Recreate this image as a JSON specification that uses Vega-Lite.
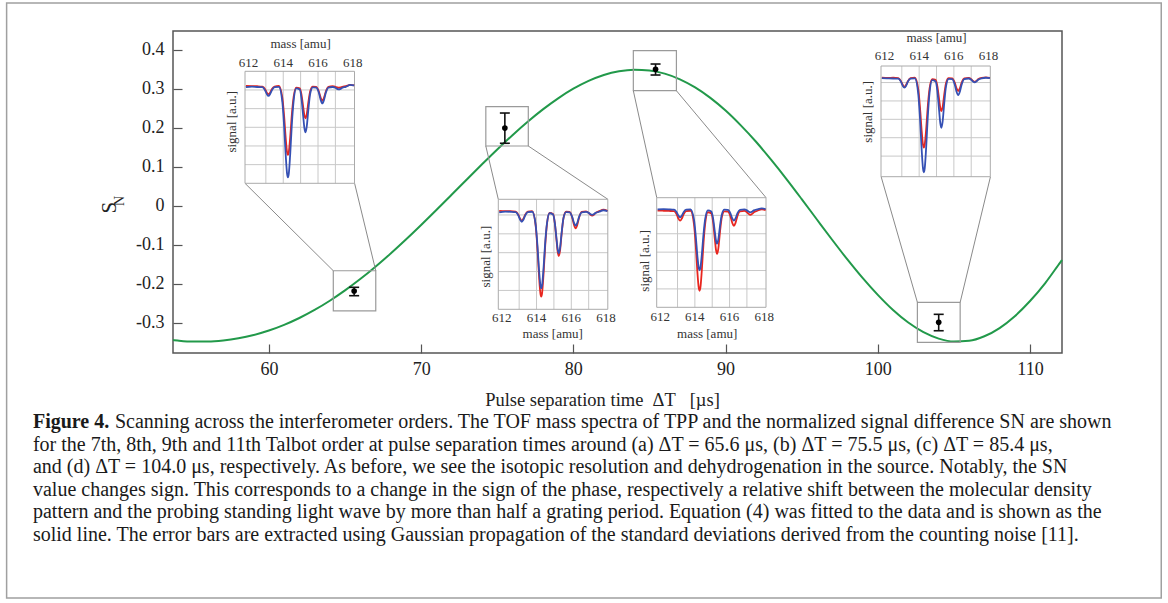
{
  "$schema": "https://vega.github.io/schema/vega-lite/v6.json",
  "width": 889,
  "height": 322,
  "autosize": {"type": "none"},
  "padding": {"left": 173, "top": 31, "right": 106, "bottom": 250},
  "background": "white",
  "config": {
    "font": "Liberation Serif",
    "view": {"stroke": "#555555", "strokeWidth": 1.5},
    "text": {"font": "Liberation Serif"}
  },
  "datasets": {
    "curve": [
      {"t":53.7,"s":-0.3449},{"t":54,"s":-0.3461},{"t":55,"s":-0.3487},{"t":56,"s":-0.3487},{"t":57,"s":-0.346},{"t":58,"s":-0.3404},{"t":59,"s":-0.3319},{"t":60,"s":-0.3204},{"t":61,"s":-0.3058},{"t":62,"s":-0.2882},{"t":63,"s":-0.2675},{"t":64,"s":-0.2439},{"t":65,"s":-0.2174},{"t":66,"s":-0.1883},{"t":67,"s":-0.1566},{"t":68,"s":-0.1228},{"t":69,"s":-0.087},{"t":70,"s":-0.0497},{"t":71,"s":-0.0113},{"t":72,"s":0.0278},{"t":73,"s":0.0672},{"t":74,"s":0.1061},{"t":75,"s":0.1442},{"t":76,"s":0.1808},{"t":77,"s":0.2152},{"t":78,"s":0.2469},{"t":79,"s":0.2753},{"t":80,"s":0.2999},{"t":81,"s":0.32},{"t":82,"s":0.3352},{"t":83,"s":0.3449},{"t":84,"s":0.3489},{"t":85,"s":0.3469},{"t":86,"s":0.3386},{"t":87,"s":0.3241},{"t":88,"s":0.3033},{"t":89,"s":0.2764},{"t":90,"s":0.2439},{"t":91,"s":0.2059},{"t":92,"s":0.1639},{"t":93,"s":0.1173},{"t":94,"s":0.0682},{"t":95,"s":0.0168},{"t":96,"s":-0.0355},{"t":97,"s":-0.0875},{"t":98,"s":-0.138},{"t":99,"s":-0.1855},{"t":100,"s":-0.229},{"t":101,"s":-0.2678},{"t":102,"s":-0.2999},{"t":103,"s":-0.3246},{"t":104,"s":-0.3411},{"t":105,"s":-0.3486},{"t":106,"s":-0.3467},{"t":107,"s":-0.3351},{"t":108,"s":-0.314},{"t":109,"s":-0.2836},{"t":110,"s":-0.2447},{"t":111,"s":-0.1986},{"t":112,"s":-0.1448},{"t":112.1,"s":-0.1395}
    ],
    "points": [
      {"t":65.6,"v":-0.219,"lo":-0.231,"hi":-0.2095},
      {"t":75.5,"v":0.199,"lo":0.16,"hi":0.2376},
      {"t":85.4,"v":0.3497,"lo":0.3351,"hi":0.3633},
      {"t":104.0,"v":-0.2993,"lo":-0.3209,"hi":-0.2788}
    ],
    "boxes": [
      {"x1":64.23,"x2":67.02,"y1":-0.167,"y2":-0.27},
      {"x1":74.25,"x2":77.04,"y1":0.2538,"y2":0.153},
      {"x1":83.94,"x2":86.77,"y1":0.3975,"y2":0.2948},
      {"x1":102.6,"x2":105.41,"y1":-0.248,"y2":-0.3506}
    ],
    "links": [
      {"x1":58.43,"y1":0.0573,"x2":64.23,"y2":-0.167},
      {"x1":65.63,"y1":0.0573,"x2":67.02,"y2":-0.167},
      {"x1":74.25,"y1":0.153,"x2":75.07,"y2":0.0162},
      {"x1":77.04,"y1":0.153,"x2":82.27,"y2":0.0162},
      {"x1":83.94,"y1":0.2948,"x2":85.48,"y2":0.0204},
      {"x1":86.77,"y1":0.2948,"x2":92.66,"y2":0.0204},
      {"x1":100.22,"y1":0.0742,"x2":102.6,"y2":-0.248},
      {"x1":107.4,"y1":0.0742,"x2":105.41,"y2":-0.248}
    ],
    "specA": [
      {"m":611.85,"r":5.22,"b":5.15},{"m":612.2,"r":5.21,"b":5.18},{"m":612.5,"r":5.2,"b":5.16},{"m":612.8,"r":5.18,"b":5.15},{"m":612.95,"r":5.05,"b":4.99},{"m":613.05,"r":4.87,"b":4.79},{"m":613.15,"r":4.78,"b":4.68},{"m":613.25,"r":4.87,"b":4.79},{"m":613.35,"r":5.05,"b":4.99},{"m":613.5,"r":5.18,"b":5.15},{"m":613.75,"r":5.22,"b":5.17},{"m":613.95,"r":4.57,"b":4.35},{"m":614.05,"r":3.61,"b":3.07},{"m":614.15,"r":2.33,"b":1.39},{"m":614.22,"r":1.67,"b":0.52},{"m":614.27,"r":1.52,"b":0.32},{"m":614.32,"r":1.67,"b":0.52},{"m":614.4,"r":2.45,"b":1.55},{"m":614.5,"r":3.73,"b":3.23},{"m":614.6,"r":4.64,"b":4.43},{"m":614.75,"r":5.13,"b":5.08},{"m":614.95,"r":5.09,"b":5.02},{"m":615.05,"r":4.75,"b":4.54},{"m":615.15,"r":4.08,"b":3.58},{"m":615.22,"r":3.63,"b":2.94},{"m":615.28,"r":3.48,"b":2.73},{"m":615.35,"r":3.68,"b":3.02},{"m":615.45,"r":4.37,"b":4.0},{"m":615.55,"r":4.93,"b":4.79},{"m":615.7,"r":5.18,"b":5.14},{"m":615.9,"r":5.17,"b":5.13},{"m":616.05,"r":4.92,"b":4.85},{"m":616.15,"r":4.6,"b":4.48},{"m":616.25,"r":4.43,"b":4.28},{"m":616.35,"r":4.6,"b":4.48},{"m":616.45,"r":4.92,"b":4.85},{"m":616.6,"r":5.17,"b":5.13},{"m":616.85,"r":5.2,"b":5.16},{"m":617.0,"r":5.17,"b":5.12},{"m":617.1,"r":5.14,"b":5.06},{"m":617.2,"r":5.12,"b":5.03},{"m":617.3,"r":5.14,"b":5.06},{"m":617.4,"r":5.17,"b":5.12},{"m":617.6,"r":5.2,"b":5.17},{"m":617.85,"r":5.27,"b":5.27},{"m":618.08,"r":5.24,"b":5.24}
    ],
    "specB": [
      {"m":611.85,"r":5.22,"b":5.14},{"m":612.2,"r":5.2,"b":5.18},{"m":612.5,"r":5.2,"b":5.17},{"m":612.8,"r":5.18,"b":5.15},{"m":612.95,"r":5.02,"b":4.98},{"m":613.05,"r":4.81,"b":4.76},{"m":613.15,"r":4.7,"b":4.64},{"m":613.25,"r":4.81,"b":4.76},{"m":613.35,"r":5.02,"b":4.98},{"m":613.5,"r":5.18,"b":5.15},{"m":613.75,"r":5.2,"b":5.17},{"m":613.95,"r":4.43,"b":4.48},{"m":614.05,"r":3.24,"b":3.41},{"m":614.15,"r":1.67,"b":2.01},{"m":614.22,"r":0.86,"b":1.28},{"m":614.27,"r":0.67,"b":1.11},{"m":614.32,"r":0.86,"b":1.28},{"m":614.4,"r":1.82,"b":2.14},{"m":614.5,"r":3.39,"b":3.55},{"m":614.6,"r":4.51,"b":4.55},{"m":614.75,"r":5.11,"b":5.09},{"m":614.95,"r":5.05,"b":5.03},{"m":615.05,"r":4.58,"b":4.6},{"m":615.15,"r":3.65,"b":3.74},{"m":615.22,"r":3.03,"b":3.16},{"m":615.28,"r":2.82,"b":2.97},{"m":615.35,"r":3.1,"b":3.23},{"m":615.45,"r":4.06,"b":4.11},{"m":615.55,"r":4.83,"b":4.83},{"m":615.7,"r":5.17,"b":5.15},{"m":615.9,"r":5.16,"b":5.14},{"m":616.05,"r":4.87,"b":4.9},{"m":616.15,"r":4.49,"b":4.6},{"m":616.25,"r":4.29,"b":4.43},{"m":616.35,"r":4.49,"b":4.6},{"m":616.45,"r":4.87,"b":4.9},{"m":616.6,"r":5.16,"b":5.14},{"m":616.85,"r":5.19,"b":5.16},{"m":617.0,"r":5.11,"b":5.11},{"m":617.1,"r":5.01,"b":5.04},{"m":617.2,"r":4.96,"b":5.0},{"m":617.3,"r":5.01,"b":5.04},{"m":617.4,"r":5.11,"b":5.11},{"m":617.6,"r":5.2,"b":5.17},{"m":617.85,"r":5.28,"b":5.25},{"m":618.08,"r":5.22,"b":5.2}
    ],
    "specC": [
      {"m":611.85,"r":5.26,"b":5.32},{"m":612.2,"r":5.25,"b":5.34},{"m":612.5,"r":5.24,"b":5.33},{"m":612.8,"r":5.23,"b":5.31},{"m":612.95,"r":5.06,"b":5.17},{"m":613.05,"r":4.83,"b":4.99},{"m":613.15,"r":4.71,"b":4.89},{"m":613.25,"r":4.83,"b":4.99},{"m":613.35,"r":5.06,"b":5.17},{"m":613.5,"r":5.23,"b":5.31},{"m":613.75,"r":5.25,"b":5.33},{"m":613.95,"r":4.51,"b":4.77},{"m":614.05,"r":3.37,"b":3.89},{"m":614.15,"r":1.86,"b":2.74},{"m":614.22,"r":1.08,"b":2.15},{"m":614.27,"r":0.9,"b":2.01},{"m":614.32,"r":1.08,"b":2.15},{"m":614.4,"r":2.0,"b":2.85},{"m":614.5,"r":3.51,"b":4.0},{"m":614.6,"r":4.59,"b":4.83},{"m":614.75,"r":5.17,"b":5.27},{"m":614.95,"r":5.1,"b":5.21},{"m":615.05,"r":4.64,"b":4.84},{"m":615.15,"r":3.72,"b":4.11},{"m":615.22,"r":3.11,"b":3.62},{"m":615.28,"r":2.9,"b":3.46},{"m":615.35,"r":3.18,"b":3.68},{"m":615.45,"r":4.12,"b":4.43},{"m":615.55,"r":4.88,"b":5.04},{"m":615.7,"r":5.22,"b":5.31},{"m":615.9,"r":5.21,"b":5.3},{"m":616.05,"r":4.95,"b":5.11},{"m":616.15,"r":4.61,"b":4.85},{"m":616.25,"r":4.43,"b":4.71},{"m":616.35,"r":4.61,"b":4.85},{"m":616.45,"r":4.95,"b":5.11},{"m":616.6,"r":5.21,"b":5.3},{"m":616.85,"r":5.24,"b":5.32},{"m":617.0,"r":5.17,"b":5.27},{"m":617.1,"r":5.08,"b":5.2},{"m":617.2,"r":5.03,"b":5.16},{"m":617.3,"r":5.08,"b":5.2},{"m":617.4,"r":5.17,"b":5.27},{"m":617.6,"r":5.25,"b":5.33},{"m":617.85,"r":5.33,"b":5.38},{"m":618.08,"r":5.28,"b":5.34}
    ],
    "specD": [
      {"m":611.85,"r":5.38,"b":5.36},{"m":612.2,"r":5.37,"b":5.35},{"m":612.5,"r":5.38,"b":5.34},{"m":612.8,"r":5.36,"b":5.33},{"m":612.95,"r":5.2,"b":5.17},{"m":613.05,"r":5.0,"b":4.95},{"m":613.15,"r":4.89,"b":4.84},{"m":613.25,"r":5.0,"b":4.95},{"m":613.35,"r":5.2,"b":5.17},{"m":613.5,"r":5.36,"b":5.33},{"m":613.75,"r":5.38,"b":5.35},{"m":613.95,"r":4.73,"b":4.48},{"m":614.05,"r":3.73,"b":3.14},{"m":614.15,"r":2.42,"b":1.37},{"m":614.22,"r":1.74,"b":0.45},{"m":614.27,"r":1.58,"b":0.24},{"m":614.32,"r":1.74,"b":0.45},{"m":614.4,"r":2.54,"b":1.53},{"m":614.5,"r":3.86,"b":3.31},{"m":614.6,"r":4.8,"b":4.57},{"m":614.75,"r":5.31,"b":5.25},{"m":614.95,"r":5.27,"b":5.18},{"m":615.05,"r":4.91,"b":4.65},{"m":615.15,"r":4.2,"b":3.6},{"m":615.22,"r":3.73,"b":2.9},{"m":615.28,"r":3.57,"b":2.66},{"m":615.35,"r":3.78,"b":2.98},{"m":615.45,"r":4.51,"b":4.06},{"m":615.55,"r":5.1,"b":4.93},{"m":615.7,"r":5.36,"b":5.32},{"m":615.9,"r":5.35,"b":5.31},{"m":616.05,"r":5.12,"b":5.02},{"m":616.15,"r":4.82,"b":4.64},{"m":616.25,"r":4.66,"b":4.44},{"m":616.35,"r":4.82,"b":4.64},{"m":616.45,"r":5.12,"b":5.02},{"m":616.6,"r":5.35,"b":5.31},{"m":616.85,"r":5.37,"b":5.34},{"m":617.0,"r":5.3,"b":5.27},{"m":617.1,"r":5.21,"b":5.18},{"m":617.2,"r":5.16,"b":5.13},{"m":617.3,"r":5.21,"b":5.18},{"m":617.4,"r":5.3,"b":5.27},{"m":617.6,"r":5.38,"b":5.35},{"m":617.85,"r":5.4,"b":5.38},{"m":618.08,"r":5.37,"b":5.36}
    ],
    "vgrid": [{"m":613},{"m":614},{"m":615},{"m":616},{"m":617}],
    "hgrid": [{"g":1},{"g":2},{"g":3},{"g":4},{"g":5}],
    "hgridD": [{"g":1.12},{"g":2.12},{"g":3.12},{"g":4.12},{"g":5.12}],
    "ticklabels": [{"m":612,"t":"612"},{"m":614,"t":"614"},{"m":616,"t":"616"},{"m":618,"t":"618"}],
    "one": [{}]
  },
  "layer": [
    {
      "layer": [
        {
          "data": {"name": "one"},
          "mark": {"type": "rect", "fill": null, "stroke": "#a0a0a0", "strokeWidth": 1.5},
          "encoding": {
            "x": {"datum": 42.77, "type": "quantitative"},
            "x2": {"datum": 118.62},
            "y": {"datum": 0.5198, "type": "quantitative"},
            "y2": {"datum": -1.0066}
          }
        },
        {
          "data": {"name": "curve"},
          "mark": {"type": "line", "stroke": "#22994a", "strokeWidth": 2, "interpolate": "monotone"},
          "encoding": {
            "x": {
              "field": "t", "type": "quantitative",
              "scale": {"domain": [53.7, 112.1], "nice": false, "zero": false},
              "axis": {
                "values": [60, 70, 80, 90, 100, 110],
                "title": "Pulse separation time\u00a0\u00a0ΔT\u00a0\u00a0\u00a0[µs]",
                "domain": false, "grid": false,
                "tickSize": -9, "tickColor": "#555555", "tickWidth": 1.2,
                "labelPadding": 16, "labelFontSize": 18, "labelColor": "#222222",
                "titleFontSize": 18.5, "titleFontWeight": "normal", "titleColor": "#222222",
                "titlePadding": 12, "titleX": 429
              }
            },
            "y": {
              "field": "s", "type": "quantitative",
              "scale": {"domain": [-0.378, 0.448], "nice": false, "zero": false},
              "axis": {
                "values": [-0.3, -0.2, -0.1, 0, 0.1, 0.2, 0.3, 0.4],
                "labelExpr": "datum.value == 0 ? '0' : replace(format(datum.value, '.1f'), '−', '-')",
                "title": null, "domain": false, "grid": false,
                "tickSize": -9, "tickColor": "#555555", "tickWidth": 1.2,
                "labelPadding": 18, "labelFontSize": 18, "labelColor": "#222222"
              }
            }
          }
        },
        {
          "data": {"name": "boxes"},
          "mark": {"type": "rect", "fill": null, "stroke": "#9a9a9a", "strokeWidth": 1.2},
          "encoding": {
            "x": {"field": "x1", "type": "quantitative"},
            "x2": {"field": "x2"},
            "y": {"field": "y1", "type": "quantitative"},
            "y2": {"field": "y2"}
          }
        },
        {
          "data": {"name": "links"},
          "mark": {"type": "rule", "stroke": "#8a8a8a", "strokeWidth": 1},
          "encoding": {
            "x": {"field": "x1", "type": "quantitative"},
            "x2": {"field": "x2"},
            "y": {"field": "y1", "type": "quantitative"},
            "y2": {"field": "y2"}
          }
        },
        {
          "data": {"name": "points"},
          "mark": {"type": "rule", "stroke": "#111111", "strokeWidth": 1.6},
          "encoding": {
            "x": {"field": "t", "type": "quantitative"},
            "y": {"field": "lo", "type": "quantitative"},
            "y2": {"field": "hi"}
          }
        },
        {
          "data": {"name": "points"},
          "mark": {"type": "tick", "orient": "horizontal", "color": "#111111", "size": 10, "thickness": 1.6, "opacity": 1},
          "encoding": {
            "x": {"field": "t", "type": "quantitative"},
            "y": {"field": "lo", "type": "quantitative"}
          }
        },
        {
          "data": {"name": "points"},
          "mark": {"type": "tick", "orient": "horizontal", "color": "#111111", "size": 10, "thickness": 1.6, "opacity": 1},
          "encoding": {
            "x": {"field": "t", "type": "quantitative"},
            "y": {"field": "hi", "type": "quantitative"}
          }
        },
        {
          "data": {"name": "points"},
          "mark": {"type": "point", "filled": true, "color": "#000000", "size": 32, "opacity": 1},
          "encoding": {
            "x": {"field": "t", "type": "quantitative"},
            "y": {"field": "v", "type": "quantitative"}
          }
        },
        {
          "data": {"values": [{"x": 49.55, "y": -0.005, "t": "S"}]},
          "mark": {"type": "text", "angle": 270, "fontSize": 21, "align": "center", "baseline": "middle", "fill": "#222222"},
          "encoding": {
            "x": {"field": "x", "type": "quantitative"},
            "y": {"field": "y", "type": "quantitative"},
            "text": {"field": "t"}
          }
        },
        {
          "data": {"values": [{"x": 50.2, "y": 0.012, "t": "N"}]},
          "mark": {"type": "text", "angle": 270, "fontSize": 14, "align": "center", "baseline": "middle", "fill": "#222222"},
          "encoding": {
            "x": {"field": "x", "type": "quantitative"},
            "y": {"field": "y", "type": "quantitative"},
            "text": {"field": "t"}
          }
        }
      ]
    },
    {
      "layer": [
        {
          "data": {"name": "vgrid"},
          "mark": {"type": "rule", "stroke": "#c8c8c8", "strokeWidth": 1},
          "encoding": {
            "x": {"field": "m", "type": "quantitative", "scale": {"domain": [611.8, 618.1], "range": [72, 181.5], "nice": false, "zero": false}, "axis": null},
            "y": {"datum": 0, "type": "quantitative", "scale": {"domain": [0, 6], "range": [152.3, 40.3], "nice": false, "zero": false}, "axis": null},
            "y2": {"datum": 6}
          }
        },
        {
          "data": {"name": "hgrid"},
          "mark": {"type": "rule", "stroke": "#c8c8c8", "strokeWidth": 1},
          "encoding": {
            "y": {"field": "g", "type": "quantitative", "axis": null},
            "x": {"datum": 611.8, "type": "quantitative", "axis": null},
            "x2": {"datum": 618.1}
          }
        },
        {
          "data": {"name": "one"},
          "mark": {"type": "rect", "fill": null, "stroke": "#aaaaaa", "strokeWidth": 1},
          "encoding": {
            "x": {"datum": 611.8, "type": "quantitative", "axis": null},
            "x2": {"datum": 618.1},
            "y": {"datum": 0, "type": "quantitative", "axis": null},
            "y2": {"datum": 6}
          }
        },
        {
          "data": {"name": "specA"},
          "mark": {"type": "line", "stroke": "#e8261f", "strokeWidth": 1.8, "interpolate": "monotone"},
          "encoding": {
            "x": {"field": "m", "type": "quantitative", "axis": null},
            "y": {"field": "r", "type": "quantitative", "axis": null}
          }
        },
        {
          "data": {"name": "specA"},
          "mark": {"type": "line", "stroke": "#3550b4", "strokeWidth": 1.8, "interpolate": "monotone"},
          "encoding": {
            "x": {"field": "m", "type": "quantitative", "axis": null},
            "y": {"field": "b", "type": "quantitative", "axis": null}
          }
        },
        {
          "data": {"name": "ticklabels"},
          "mark": {"type": "text", "fontSize": 13, "baseline": "bottom", "dy": -1, "fill": "#333333"},
          "encoding": {
            "x": {"field": "m", "type": "quantitative", "axis": null},
            "y": {"datum": 6, "type": "quantitative", "axis": null},
            "text": {"field": "t"}
          }
        },
        {
          "data": {"values": [{"m": 615.0, "t": "mass [amu]"}]},
          "mark": {"type": "text", "fontSize": 13, "baseline": "bottom", "dy": -20, "fill": "#333333"},
          "encoding": {
            "x": {"field": "m", "type": "quantitative", "axis": null},
            "y": {"datum": 6, "type": "quantitative", "axis": null},
            "text": {"field": "t"}
          }
        },
        {
          "data": {"values": [{"m": 611.05, "s": 3.3, "t": "signal [a.u.]"}]},
          "mark": {"type": "text", "fontSize": 13, "angle": 270, "align": "center", "baseline": "middle", "fill": "#333333"},
          "encoding": {
            "x": {"field": "m", "type": "quantitative", "axis": null},
            "y": {"field": "s", "type": "quantitative", "axis": null},
            "text": {"field": "t"}
          }
        }
      ]
    },
    {
      "layer": [
        {
          "data": {"name": "vgrid"},
          "mark": {"type": "rule", "stroke": "#c8c8c8", "strokeWidth": 1},
          "encoding": {
            "x": {"field": "m", "type": "quantitative", "scale": {"domain": [611.8, 618.1], "range": [325.3, 434.8], "nice": false, "zero": false}, "axis": null},
            "y": {"datum": 0, "type": "quantitative", "scale": {"domain": [0, 5.83], "range": [278.3, 168.3], "nice": false, "zero": false}, "axis": null},
            "y2": {"datum": 5.83}
          }
        },
        {
          "data": {"name": "hgrid"},
          "mark": {"type": "rule", "stroke": "#c8c8c8", "strokeWidth": 1},
          "encoding": {
            "y": {"field": "g", "type": "quantitative", "axis": null},
            "x": {"datum": 611.8, "type": "quantitative", "axis": null},
            "x2": {"datum": 618.1}
          }
        },
        {
          "data": {"name": "one"},
          "mark": {"type": "rect", "fill": null, "stroke": "#aaaaaa", "strokeWidth": 1},
          "encoding": {
            "x": {"datum": 611.8, "type": "quantitative", "axis": null},
            "x2": {"datum": 618.1},
            "y": {"datum": 0, "type": "quantitative", "axis": null},
            "y2": {"datum": 5.83}
          }
        },
        {
          "data": {"name": "specB"},
          "mark": {"type": "line", "stroke": "#e8261f", "strokeWidth": 1.8, "interpolate": "monotone"},
          "encoding": {
            "x": {"field": "m", "type": "quantitative", "axis": null},
            "y": {"field": "r", "type": "quantitative", "axis": null}
          }
        },
        {
          "data": {"name": "specB"},
          "mark": {"type": "line", "stroke": "#3550b4", "strokeWidth": 1.8, "interpolate": "monotone"},
          "encoding": {
            "x": {"field": "m", "type": "quantitative", "axis": null},
            "y": {"field": "b", "type": "quantitative", "axis": null}
          }
        },
        {
          "data": {"name": "ticklabels"},
          "mark": {"type": "text", "fontSize": 13, "baseline": "top", "dy": 3, "fill": "#333333"},
          "encoding": {
            "x": {"field": "m", "type": "quantitative", "axis": null},
            "y": {"datum": 0, "type": "quantitative", "axis": null},
            "text": {"field": "t"}
          }
        },
        {
          "data": {"values": [{"m": 614.93, "t": "mass [amu]"}]},
          "mark": {"type": "text", "fontSize": 13, "baseline": "top", "dy": 19, "fill": "#333333"},
          "encoding": {
            "x": {"field": "m", "type": "quantitative", "axis": null},
            "y": {"datum": 0, "type": "quantitative", "axis": null},
            "text": {"field": "t"}
          }
        },
        {
          "data": {"values": [{"m": 611.09, "s": 2.79, "t": "signal [a.u.]"}]},
          "mark": {"type": "text", "fontSize": 13, "angle": 270, "align": "center", "baseline": "middle", "fill": "#333333"},
          "encoding": {
            "x": {"field": "m", "type": "quantitative", "axis": null},
            "y": {"field": "s", "type": "quantitative", "axis": null},
            "text": {"field": "t"}
          }
        }
      ]
    },
    {
      "layer": [
        {
          "data": {"name": "vgrid"},
          "mark": {"type": "rule", "stroke": "#c8c8c8", "strokeWidth": 1},
          "encoding": {
            "x": {"field": "m", "type": "quantitative", "scale": {"domain": [611.8, 618.1], "range": [483.7, 593], "nice": false, "zero": false}, "axis": null},
            "y": {"datum": 0, "type": "quantitative", "scale": {"domain": [0, 5.96], "range": [276.3, 166.7], "nice": false, "zero": false}, "axis": null},
            "y2": {"datum": 5.96}
          }
        },
        {
          "data": {"name": "hgrid"},
          "mark": {"type": "rule", "stroke": "#c8c8c8", "strokeWidth": 1},
          "encoding": {
            "y": {"field": "g", "type": "quantitative", "axis": null},
            "x": {"datum": 611.8, "type": "quantitative", "axis": null},
            "x2": {"datum": 618.1}
          }
        },
        {
          "data": {"name": "one"},
          "mark": {"type": "rect", "fill": null, "stroke": "#aaaaaa", "strokeWidth": 1},
          "encoding": {
            "x": {"datum": 611.8, "type": "quantitative", "axis": null},
            "x2": {"datum": 618.1},
            "y": {"datum": 0, "type": "quantitative", "axis": null},
            "y2": {"datum": 5.96}
          }
        },
        {
          "data": {"name": "specC"},
          "mark": {"type": "line", "stroke": "#e8261f", "strokeWidth": 1.8, "interpolate": "monotone"},
          "encoding": {
            "x": {"field": "m", "type": "quantitative", "axis": null},
            "y": {"field": "r", "type": "quantitative", "axis": null}
          }
        },
        {
          "data": {"name": "specC"},
          "mark": {"type": "line", "stroke": "#3550b4", "strokeWidth": 1.8, "interpolate": "monotone"},
          "encoding": {
            "x": {"field": "m", "type": "quantitative", "axis": null},
            "y": {"field": "b", "type": "quantitative", "axis": null}
          }
        },
        {
          "data": {"name": "ticklabels"},
          "mark": {"type": "text", "fontSize": 13, "baseline": "top", "dy": 4, "fill": "#333333"},
          "encoding": {
            "x": {"field": "m", "type": "quantitative", "axis": null},
            "y": {"datum": 0, "type": "quantitative", "axis": null},
            "text": {"field": "t"}
          }
        },
        {
          "data": {"values": [{"m": 614.71, "t": "mass [amu]"}]},
          "mark": {"type": "text", "fontSize": 13, "baseline": "top", "dy": 21, "fill": "#333333"},
          "encoding": {
            "x": {"field": "m", "type": "quantitative", "axis": null},
            "y": {"datum": 0, "type": "quantitative", "axis": null},
            "text": {"field": "t"}
          }
        },
        {
          "data": {"values": [{"m": 611.13, "s": 2.53, "t": "signal [a.u.]"}]},
          "mark": {"type": "text", "fontSize": 13, "angle": 270, "align": "center", "baseline": "middle", "fill": "#333333"},
          "encoding": {
            "x": {"field": "m", "type": "quantitative", "axis": null},
            "y": {"field": "s", "type": "quantitative", "axis": null},
            "text": {"field": "t"}
          }
        }
      ]
    },
    {
      "layer": [
        {
          "data": {"name": "vgrid"},
          "mark": {"type": "rule", "stroke": "#c8c8c8", "strokeWidth": 1},
          "encoding": {
            "x": {"field": "m", "type": "quantitative", "scale": {"domain": [611.8, 618.1], "range": [708, 817.3], "nice": false, "zero": false}, "axis": null},
            "y": {"datum": 0, "type": "quantitative", "scale": {"domain": [0, 6.02], "range": [145.7, 35], "nice": false, "zero": false}, "axis": null},
            "y2": {"datum": 6.02}
          }
        },
        {
          "data": {"name": "hgridD"},
          "mark": {"type": "rule", "stroke": "#c8c8c8", "strokeWidth": 1},
          "encoding": {
            "y": {"field": "g", "type": "quantitative", "axis": null},
            "x": {"datum": 611.8, "type": "quantitative", "axis": null},
            "x2": {"datum": 618.1}
          }
        },
        {
          "data": {"name": "one"},
          "mark": {"type": "rect", "fill": null, "stroke": "#aaaaaa", "strokeWidth": 1},
          "encoding": {
            "x": {"datum": 611.8, "type": "quantitative", "axis": null},
            "x2": {"datum": 618.1},
            "y": {"datum": 0, "type": "quantitative", "axis": null},
            "y2": {"datum": 6.02}
          }
        },
        {
          "data": {"name": "specD"},
          "mark": {"type": "line", "stroke": "#e8261f", "strokeWidth": 1.8, "interpolate": "monotone"},
          "encoding": {
            "x": {"field": "m", "type": "quantitative", "axis": null},
            "y": {"field": "r", "type": "quantitative", "axis": null}
          }
        },
        {
          "data": {"name": "specD"},
          "mark": {"type": "line", "stroke": "#3550b4", "strokeWidth": 1.8, "interpolate": "monotone"},
          "encoding": {
            "x": {"field": "m", "type": "quantitative", "axis": null},
            "y": {"field": "b", "type": "quantitative", "axis": null}
          }
        },
        {
          "data": {"name": "ticklabels"},
          "mark": {"type": "text", "fontSize": 13, "baseline": "bottom", "dy": -3, "fill": "#333333"},
          "encoding": {
            "x": {"field": "m", "type": "quantitative", "axis": null},
            "y": {"datum": 6.02, "type": "quantitative", "axis": null},
            "text": {"field": "t"}
          }
        },
        {
          "data": {"values": [{"m": 615.0, "t": "mass [amu]"}]},
          "mark": {"type": "text", "fontSize": 13, "baseline": "bottom", "dy": -21, "fill": "#333333"},
          "encoding": {
            "x": {"field": "m", "type": "quantitative", "axis": null},
            "y": {"datum": 6.02, "type": "quantitative", "axis": null},
            "text": {"field": "t"}
          }
        },
        {
          "data": {"values": [{"m": 611.07, "s": 3.53, "t": "signal [a.u.]"}]},
          "mark": {"type": "text", "fontSize": 13, "angle": 270, "align": "center", "baseline": "middle", "fill": "#333333"},
          "encoding": {
            "x": {"field": "m", "type": "quantitative", "axis": null},
            "y": {"field": "s", "type": "quantitative", "axis": null},
            "text": {"field": "t"}
          }
        }
      ]
    },
    {
      "layer": [
        {
          "data": {"values": [{"line": 1, "t": "Figure 4."}]},
          "mark": {"type": "text", "fontSize": 20, "fontWeight": "bold", "align": "left", "baseline": "alphabetic", "fill": "#1a1a1a"},
          "encoding": {
            "x": {"datum": 44.5, "type": "quantitative", "scale": {"domain": [53.7, 112.1], "nice": false, "zero": false}, "axis": null},
            "y": {"field": "line", "type": "quantitative", "scale": {"domain": [1, 6], "range": [397, 509.5], "nice": false, "zero": false}, "axis": null},
            "text": {"field": "t"}
          }
        },
        {
          "data": {"values": [{"line": 1, "t": "Scanning across the interferometer orders. The TOF mass spectra of TPP and the normalized signal difference SN are shown"}]},
          "mark": {"type": "text", "fontSize": 20, "align": "left", "baseline": "alphabetic", "dx": 82, "fill": "#1a1a1a"},
          "encoding": {
            "x": {"datum": 44.5, "type": "quantitative", "axis": null},
            "y": {"field": "line", "type": "quantitative", "axis": null},
            "text": {"field": "t"}
          }
        },
        {
          "data": {"values": [
            {"line": 2, "t": "for the 7th, 8th, 9th and 11th Talbot order at pulse separation times around (a) ΔT = 65.6 μs, (b) ΔT = 75.5 μs, (c) ΔT = 85.4 μs,"},
            {"line": 3, "t": "and (d) ΔT = 104.0 μs, respectively. As before, we see the isotopic resolution and dehydrogenation in the source. Notably, the SN"},
            {"line": 4, "t": "value changes sign. This corresponds to a change in the sign of the phase, respectively a relative shift between the molecular density"},
            {"line": 5, "t": "pattern and the probing standing light wave by more than half a grating period. Equation (4) was fitted to the data and is shown as the"},
            {"line": 6, "t": "solid line. The error bars are extracted using Gaussian propagation of the standard deviations derived from the counting noise [11]."}
          ]},
          "mark": {"type": "text", "fontSize": 20, "align": "left", "baseline": "alphabetic", "fill": "#1a1a1a"},
          "encoding": {
            "x": {"datum": 44.5, "type": "quantitative", "axis": null},
            "y": {"field": "line", "type": "quantitative", "axis": null},
            "text": {"field": "t"}
          }
        }
      ]
    }
  ],
  "resolve": {"scale": {"x": "independent", "y": "independent"}}
}
